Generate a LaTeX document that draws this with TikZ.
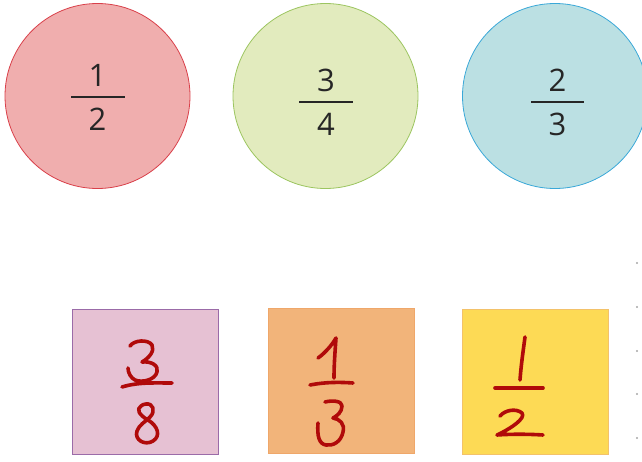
\documentclass[tikz,border=0pt]{standalone}
\usepackage{fontspec}
\setmainfont{Open Sans}
\begin{document}
\begin{tikzpicture}[x=1pt,y=-1pt,
  disc/.style={circle,draw,line width=0.8pt,minimum size=185pt,inner sep=0pt},
  card/.style={rectangle,draw,line width=0.8pt,minimum width=146pt,minimum height=145pt,inner sep=0pt},
  digit/.style={font=\fontsize{31}{31}\selectfont,text=black!85,inner sep=0pt},
  bar/.style={line width=1.8pt,black!85},
  pen/.style={line width=3.6pt,draw=handred,line cap=round,line join=round},
  dotmark/.style={circle,fill=black!35,inner sep=0pt,minimum size=2.2pt}]
\definecolor{pinkfill}{HTML}{F0AEAE}\definecolor{pinkline}{HTML}{D9404A}
\definecolor{greenfill}{HTML}{E2EBBE}\definecolor{greenline}{HTML}{9CC560}
\definecolor{bluefill}{HTML}{BBE0E3}\definecolor{blueline}{HTML}{3AA8D8}
\definecolor{lilacfill}{HTML}{E6C1D3}\definecolor{lilacline}{HTML}{9B6BA8}
\definecolor{orangefill}{HTML}{F2B47A}\definecolor{orangeline}{HTML}{EFA76A}
\definecolor{yellowfill}{HTML}{FDDA55}\definecolor{yellowline}{HTML}{F3C26A}
\definecolor{handred}{HTML}{B00A0A}
\useasboundingbox (0,0) rectangle (642,461);
\begin{scope}
\clip (0,0) rectangle (642,461);
% circles
\node[disc,fill=pinkfill,draw=pinkline] (c1) at (97.5,96) {};
\node[disc,fill=greenfill,draw=greenline] (c2) at (325.5,96) {};
\node[disc,fill=bluefill,draw=blueline] (c3) at (555,96) {};
\end{scope}
% printed fractions
\node[digit] (n1) at (97.5,75) {1};
\node[digit] (d1) at (97.5,119) {2};
\coordinate (b1l) at (71,97); \coordinate (b1r) at (125,97);
\draw[bar] (b1l) -- (b1r);
\node[digit] (n2) at (326,80) {3};
\node[digit] (d2) at (326,124) {4};
\coordinate (b2l) at (299,102); \coordinate (b2r) at (353,102);
\draw[bar] (b2l) -- (b2r);
\node[digit] (n3) at (557.5,80) {2};
\node[digit] (d3) at (557.5,124) {3};
\coordinate (b3l) at (531,102); \coordinate (b3r) at (584,102);
\draw[bar] (b3l) -- (b3r);
% cards
\node[card,fill=lilacfill,draw=lilacline] (s1) at (145,381.5) {};
\node[card,fill=orangefill,draw=orangeline] (s2) at (341,381) {};
\node[card,fill=yellowfill,draw=yellowline] (s3) at (535.5,381.5) {};
% handwritten 3/8
\draw[pen] (130,346) .. controls (134,340) and (148,339) .. (152,345)
  .. controls (155,351) and (149,358) .. (142,362)
  .. controls (152,361) and (159,366) .. (157,372)
  .. controls (155,380) and (142,383) .. (135,380)
  .. controls (131,378) and (128,373) .. (128,368);
\draw[pen] (122,387) .. controls (138,382) and (155,383) .. (172,383);
\draw[pen] (141,406) .. controls (136,409) and (139,415) .. (148,420)
  .. controls (158,426) and (161,436) .. (153,441)
  .. controls (145,446) and (134,440) .. (137,431)
  .. controls (139,425) and (145,422) .. (150,417)
  .. controls (156,411) and (153,403) .. (146,404)
  .. controls (144,404) and (142,405) .. (141,406);
% handwritten 1/3
\draw[pen] (318,358) .. controls (325,353) and (332,345) .. (336,338)
  .. controls (335,352) and (334,365) .. (334,378);
\draw[pen] (310,385) .. controls (325,382) and (340,382) .. (353,383);
\draw[pen] (325,402) .. controls (333,400) and (342,401) .. (342,406)
  .. controls (342,412) and (337,416) .. (333,418)
  .. controls (340,419) and (345,424) .. (343,432)
  .. controls (341,442) and (333,446) .. (326,445)
  .. controls (319,444) and (317,436) .. (318,423);
% handwritten 1/2
\draw[pen] (525,337) .. controls (523,352) and (521,366) .. (520,380);
\draw[pen] (495,388) -- (543,388);
\draw[pen] (500,416) .. controls (505,410) and (516,408) .. (522,413)
  .. controls (526,418) and (512,428) .. (497,435)
  .. controls (510,434) and (528,434) .. (543,435);
% dots on the right edge
\node[dotmark] (p1) at (637,263) {};
\node[dotmark] (p2) at (637,307) {};
\node[dotmark] (p3) at (637,351) {};
\node[dotmark] (p4) at (637,394) {};
\node[dotmark] (p5) at (637,438) {};
\end{tikzpicture}
\end{document}
